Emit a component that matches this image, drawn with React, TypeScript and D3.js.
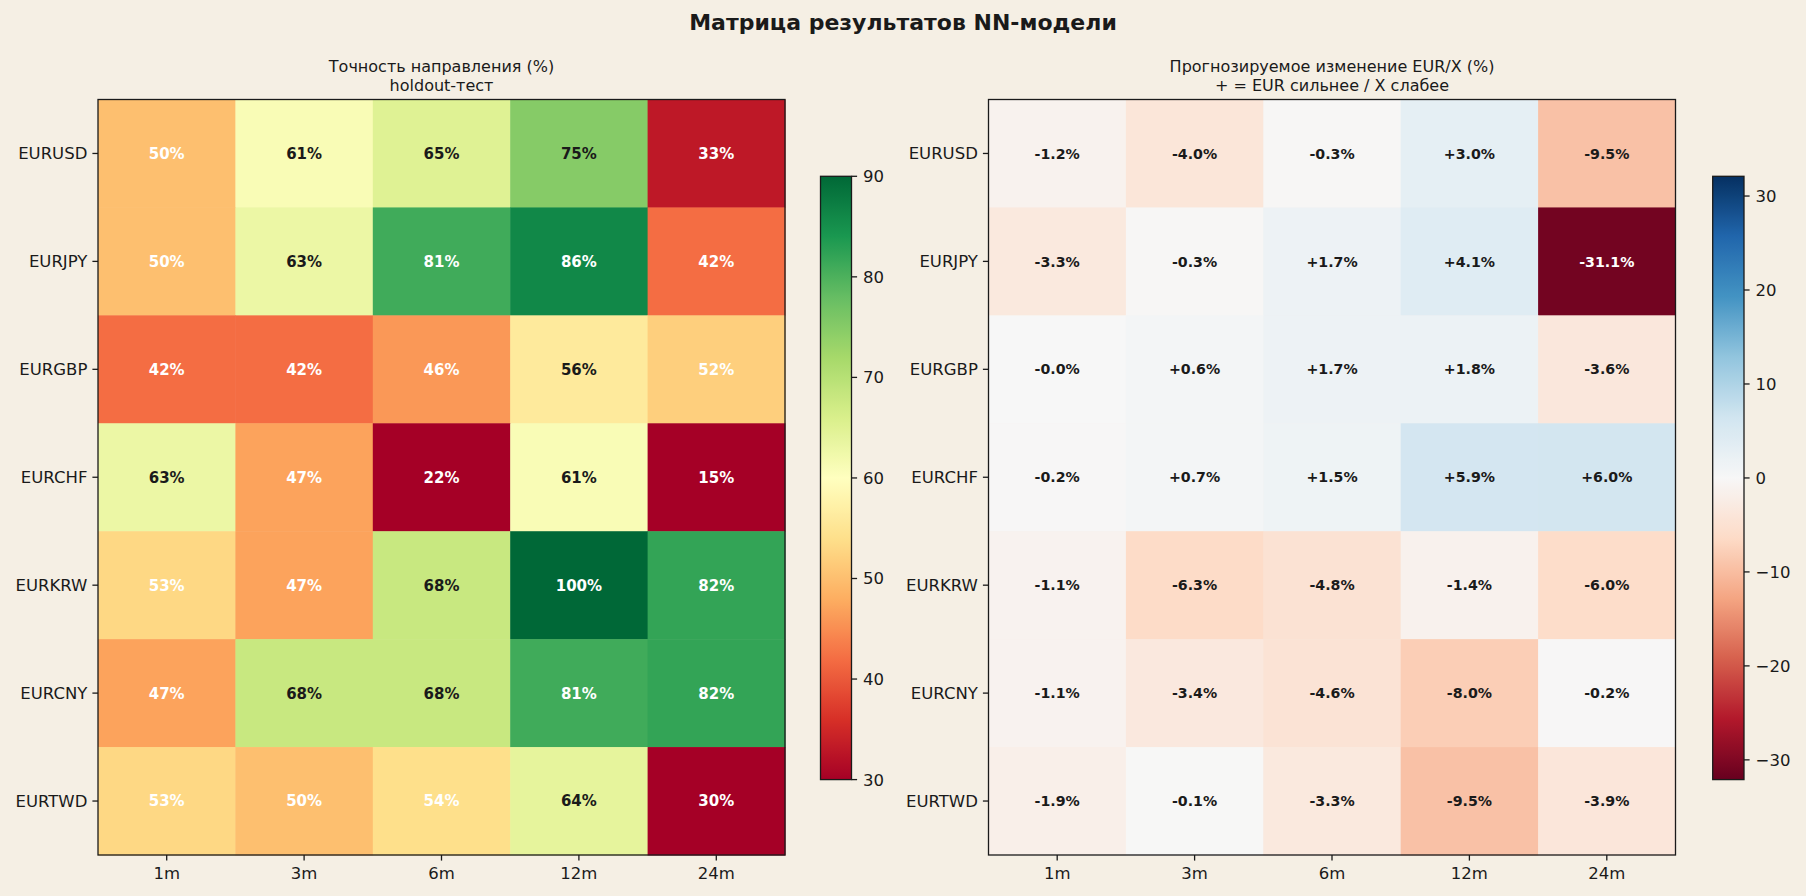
import React from "react";
import * as d3 from "d3";

const pairs = ["EURUSD", "EURJPY", "EURGBP", "EURCHF", "EURKRW", "EURCNY", "EURTWD"];
const horizons = ["1m", "3m", "6m", "12m", "24m"];

const accuracyUSD = [50, 61, 65, 75, 33];
const accuracyJPY = [50, 63, 81, 86, 42];
const accuracyGBP = [42, 42, 46, 56, 52];
const accuracyCHF = [63, 47, 22, 61, 15];
const accuracyKRW = [53, 47, 68, 100, 82];
const accuracyCNY = [47, 68, 68, 81, 82];
const accuracyTWD = [53, 50, 54, 64, 30];

const changeUSD = [-1.2, -4.0, -0.3, 3.0, -9.5];
const changeJPY = [-3.3, -0.3, 1.7, 4.1, -31.1];
const changeGBP = [-0.04, 0.6, 1.7, 1.8, -3.6];
const changeCHF = [-0.2, 0.7, 1.5, 5.9, 6.0];
const changeKRW = [-1.1, -6.3, -4.8, -1.4, -6.0];
const changeCNY = [-1.1, -3.4, -4.6, -8.0, -0.2];
const changeTWD = [-1.9, -0.1, -3.3, -9.5, -3.9];

const accTicks = [30, 40, 50, 60, 70, 80, 90];
const chgTicks = [-30, -20, -10, 0, 10, 20, 30];

const accuracy = [accuracyUSD, accuracyJPY, accuracyGBP, accuracyCHF, accuracyKRW, accuracyCNY, accuracyTWD];
const change = [changeUSD, changeJPY, changeGBP, changeCHF, changeKRW, changeCNY, changeTWD];

const W = 1806;
const H = 896;
const BG = "#f5efe4";
const INK = "#1a1a1a";
const FONT = "'DejaVu Sans', sans-serif";
const TICK_FS = 16.5;

function makeCmap(colors: readonly string[], vmin: number, vmax: number) {
  const n = colors.length;
  const dom = colors.map((_, i) => vmin + ((vmax - vmin) * i) / (n - 1));
  return d3.scaleLinear<string>().domain(dom).range(colors as string[]).interpolate(d3.interpolateRgb).clamp(true);
}

const accVmin = 30, accVmax = 90;
const chgVmax = 32.1;
const accColor = makeCmap(d3.schemeRdYlGn[11], accVmin, accVmax);
const chgColor = makeCmap(d3.schemeRdBu[11], -chgVmax, chgVmax);

type PanelProps = {
  id: string;
  x0: number;
  x1: number;
  y0: number;
  y1: number;
  data: number[][];
  color: (v: number) => string;
  fmt: (v: number) => string;
  textColor: (v: number) => string;
  fontSize: number;
  title: string[];
  cbX0: number;
  cbX1: number;
  cbY0: number;
  cbY1: number;
  cbMin: number;
  cbMax: number;
  cbTicks: number[];
};

function Panel(p: PanelProps) {
  const x = d3.scaleBand().domain(horizons).range([p.x0, p.x1]);
  const y = d3.scaleBand().domain(pairs).range([p.y0, p.y1]);
  const cy = d3.scaleLinear().domain([p.cbMin, p.cbMax]).range([p.cbY1, p.cbY0]);
  const stops = d3.range(0, 101).map((i) => {
    const v = p.cbMin + ((p.cbMax - p.cbMin) * i) / 100;
    return { off: i, c: p.color(v) };
  });
  const tickLen = 5.6;
  const cx = (p.x0 + p.x1) / 2;
  const tickFmt = (v: number) => (v < 0 ? "\u2212" + Math.abs(v) : String(v));
  return (
    <g>
      <defs>
        <linearGradient id={p.id} x1="0" y1="1" x2="0" y2="0">
          {stops.map((s) => (
            <stop key={s.off} offset={`${s.off}%`} stopColor={s.c} />
          ))}
        </linearGradient>
      </defs>
      {p.title.map((t, i) => (
        <text key={i} x={cx} y={72 + i * 18.5} textAnchor="middle" fontSize={16} fill={INK} fontFamily={FONT}>
          {t}
        </text>
      ))}
      {pairs.map((pair, r) =>
        horizons.map((h, c) => (
          <rect
            key={pair + h}
            x={x(h)!}
            y={y(pair)!}
            width={x.bandwidth() + 0.5}
            height={y.bandwidth() + 0.5}
            fill={p.color(p.data[r][c])}
          />
        ))
      )}
      {pairs.map((pair, r) =>
        horizons.map((h, c) => (
          <text
            key={"t" + pair + h}
            x={x(h)! + x.bandwidth() / 2}
            y={y(pair)! + y.bandwidth() / 2}
            dy="0.36em"
            textAnchor="middle"
            fontSize={p.fontSize}
            fontWeight="bold"
            fill={p.textColor(p.data[r][c])}
            fontFamily={FONT}
          >
            {p.fmt(p.data[r][c])}
          </text>
        ))
      )}
      <rect x={p.x0} y={p.y0} width={p.x1 - p.x0} height={p.y1 - p.y0} fill="none" stroke={INK} strokeWidth={1.3} />
      {pairs.map((pair) => {
        const yy = y(pair)! + y.bandwidth() / 2;
        return (
          <g key={"yl" + pair}>
            <line x1={p.x0 - tickLen} x2={p.x0} y1={yy} y2={yy} stroke={INK} strokeWidth={1.3} />
            <text x={p.x0 - tickLen - 5} y={yy} dy="0.36em" textAnchor="end" fontSize={TICK_FS} fill={INK} fontFamily={FONT}>
              {pair}
            </text>
          </g>
        );
      })}
      {horizons.map((h) => {
        const xx = x(h)! + x.bandwidth() / 2;
        return (
          <g key={"xl" + h}>
            <line x1={xx} x2={xx} y1={p.y1} y2={p.y1 + tickLen} stroke={INK} strokeWidth={1.3} />
            <text x={xx} y={p.y1 + tickLen + 5.6} dy="0.76em" textAnchor="middle" fontSize={TICK_FS} fill={INK} fontFamily={FONT}>
              {h}
            </text>
          </g>
        );
      })}
      <rect x={p.cbX0} y={p.cbY0} width={p.cbX1 - p.cbX0} height={p.cbY1 - p.cbY0} fill={`url(#${p.id})`} stroke={INK} strokeWidth={1.3} />
      {p.cbTicks.map((t) => (
        <g key={"cb" + t}>
          <line x1={p.cbX1} x2={p.cbX1 + tickLen} y1={cy(t)} y2={cy(t)} stroke={INK} strokeWidth={1.3} />
          <text x={p.cbX1 + tickLen + 6} y={cy(t)} dy="0.36em" fontSize={TICK_FS} fill={INK} fontFamily={FONT}>
            {tickFmt(t)}
          </text>
        </g>
      ))}
    </g>
  );
}

export default function App() {
  return (
    <svg
      width={W}
      height={H}
      viewBox={`0 0 ${W} ${H}`}
      style={{ position: "absolute", left: 0, top: 0, display: "block", background: BG }}
    >
      <rect x={0} y={0} width={W} height={H} fill={BG} />
      <text x={W / 2} y={29.5} textAnchor="middle" fontSize={22} fontWeight="bold" fill={INK} fontFamily={FONT}>
        Матрица результатов NN-модели
      </text>
      <Panel
        id="gradAcc"
        x0={98}
        x1={785}
        y0={99.5}
        y1={855}
        data={accuracy}
        color={accColor}
        fmt={(v) => `${Math.round(v)}%`}
        textColor={(v) => (v < 55 || v >= 80 ? "#ffffff" : INK)}
        fontSize={15}
        title={["Точность направления (%)", "holdout-тест"]}
        cbX0={820.5}
        cbX1={851.5}
        cbY0={176.3}
        cbY1={779.6}
        cbMin={accVmin}
        cbMax={accVmax}
        cbTicks={accTicks}
      />
      <Panel
        id="gradChg"
        x0={988.5}
        x1={1675.5}
        y0={99.5}
        y1={855}
        data={change}
        color={chgColor}
        fmt={(v) => (v >= 0 ? "+" : "-") + Math.abs(v).toFixed(1) + "%"}
        textColor={(v) => (Math.abs(v) > 15 ? "#ffffff" : INK)}
        fontSize={14.2}
        title={["Прогнозируемое изменение EUR/X (%)", "+ = EUR сильнее / X слабее"]}
        cbX0={1712.7}
        cbX1={1744}
        cbY0={176.3}
        cbY1={779.6}
        cbMin={-chgVmax}
        cbMax={chgVmax}
        cbTicks={chgTicks}
      />
    </svg>
  );
}
